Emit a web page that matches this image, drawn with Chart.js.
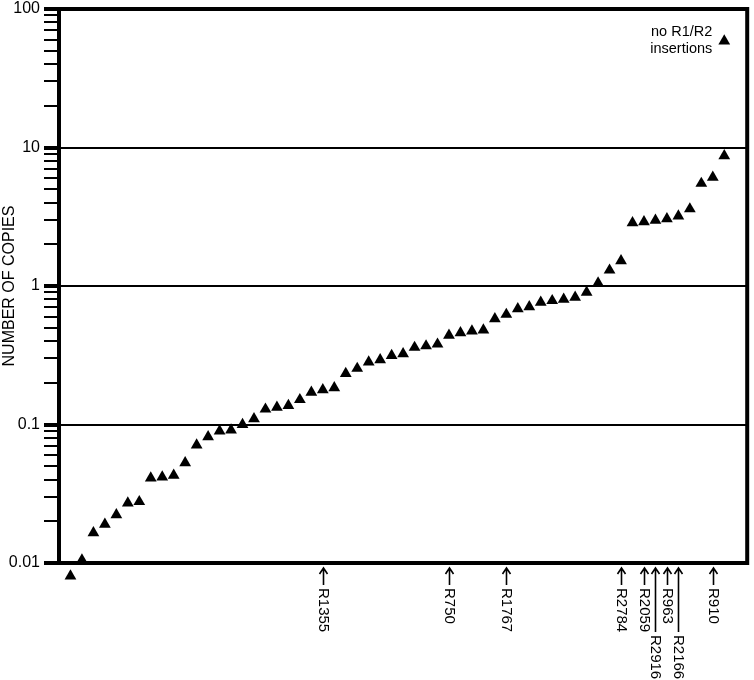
<!DOCTYPE html>
<html>
<head>
<meta charset="utf-8">
<script src="https://cdn.jsdelivr.net/npm/chart.js@4.4.1/dist/chart.umd.min.js"></script>
<style>
  html, body { margin: 0; padding: 0; background: #fff; }
</style>
</head>
<body>
<canvas id="copies-chart" width="754" height="680"></canvas>
<script>
// copy number per strain, sorted (log scale)
const copies = [
  0.00805, 0.0105, 0.0165, 0.019, 0.0223, 0.0271, 0.0277, 0.041, 0.0417, 0.043,
  0.0528, 0.071, 0.0815, 0.0895, 0.091, 0.100, 0.11, 0.129, 0.133, 0.137,
  0.151, 0.171, 0.178, 0.184, 0.233, 0.254, 0.282, 0.293, 0.315, 0.324,
  0.36, 0.369, 0.38, 0.441, 0.459, 0.472, 0.48, 0.58, 0.623, 0.684,
  0.708, 0.762, 0.783, 0.80, 0.829, 0.90, 1.05, 1.3, 1.52, 2.86,
  2.91, 2.98, 3.06, 3.2, 3.6, 5.5, 6.1, 8.7
];
const noInsertIndex = 57;
const noInsertCopies = 58.7;
const noInsertLabel = ["no R1/R2", "insertions"];

const arrowIndex = [22, 33, 38, 48, 50, 51, 52, 53, 56];
const arrowLabels = ["R1355", "R750", "R1767", "R2784", "R2059", "R2916", "R963", "R2166", "R910"];
const arrowLong = [false, false, false, false, false, true, false, true, false];

const decadeTicks = [0.01, 0.1, 1, 10, 100];
const decadeLabels = ["0.01", "0.1", "1", "10", "100"];

const FONT = "'Liberation Sans', Arial, sans-serif";

function isDecade(v) { return decadeTicks.indexOf(v) >= 0; }
function isInnerDecade(v) { return isDecade(v) && v !== 0.01 && v !== 100; }

const overlay = {
  id: "overlay",
  afterDatasetsDraw(chart) {
    // chart.js skips points lying outside the chart area, draw those here
    const { ctx, chartArea: a } = chart;
    ctx.save();
    ctx.fillStyle = "#000";
    chart.getSortedVisibleDatasetMetas().forEach(meta => {
      meta.data.forEach(el => {
        if (el.y > a.bottom + 4 || el.y < a.top - 4) {
          Chart.helpers.drawPoint(ctx, el.options, el.x, el.y);
        }
      });
    });
    ctx.restore();
  },
  afterDraw(chart) {
    const { ctx, chartArea: a, scales } = chart;
    ctx.save();
    ctx.strokeStyle = "#000";
    ctx.fillStyle = "#000";
    ctx.lineWidth = 4;
    ctx.strokeRect(a.left, a.top, a.right - a.left, a.bottom - a.top);

    // strain arrows under the axis
    ctx.lineWidth = 1.6;
    ctx.font = "15px " + FONT;
    ctx.textAlign = "left";
    ctx.textBaseline = "middle";
    arrowIndex.forEach((idx, k) => {
      const x = Math.round(scales.x.getPixelForValue(idx)) + 0.5;
      const y0 = a.bottom + 5;
      const y1 = arrowLong[k] ? a.bottom + 69 : a.bottom + 22;
      ctx.beginPath();
      ctx.moveTo(x, y0);
      ctx.lineTo(x, y1);
      ctx.moveTo(x - 4, y0 + 6);
      ctx.lineTo(x, y0);
      ctx.lineTo(x + 4, y0 + 6);
      ctx.stroke();
      ctx.save();
      ctx.translate(x, y1 + 3);
      ctx.rotate(Math.PI / 2);
      ctx.fillText(arrowLabels[k], 0, 0);
      ctx.restore();
    });

    // label next to the "no insertions" point
    const px = scales.x.getPixelForValue(noInsertIndex);
    const py = scales.y.getPixelForValue(noInsertCopies);
    ctx.font = "14.5px " + FONT;
    ctx.textAlign = "right";
    ctx.textBaseline = "alphabetic";
    ctx.fillText(noInsertLabel[0], px - 12, py - 5.5);
    ctx.fillText(noInsertLabel[1], px - 12, py + 11.5);
    ctx.restore();
  }
};

const pointStyle = {
  showLine: false,
  pointStyle: "triangle",
  pointRadius: 6.8,
  pointBackgroundColor: "#000",
  pointBorderWidth: 0,
  clip: false
};

new Chart(document.getElementById("copies-chart").getContext("2d"), {
  type: "scatter",
  data: {
    datasets: [
      Object.assign({ data: copies.map((v, i) => ({ x: i, y: v })) }, pointStyle),
      Object.assign({ data: [{ x: noInsertIndex, y: noInsertCopies }] }, pointStyle)
    ]
  },
  options: {
    responsive: false,
    animation: false,
    events: [],
    layout: { padding: { top: 9, right: 5, bottom: 117, left: 0 } },
    plugins: { legend: { display: false }, tooltip: { enabled: false } },
    scales: {
      x: { type: "linear", min: -1, max: 59, display: false },
      y: {
        type: "logarithmic",
        min: 0.01,
        max: 100,
        afterBuildTicks(scale) {
          const t = [];
          decadeTicks.forEach((d, i) => {
            t.push({ value: d });
            if (i < decadeTicks.length - 1) {
              for (let m = 2; m <= 9; m++) t.push({ value: +(d * m).toPrecision(3) });
            }
          });
          scale.ticks = t;
        },
        afterFit(scale) {
          scale.width = 59;
          scale.paddingTop = 0;
          scale.paddingBottom = 0;
        },
        border: { display: true, color: "#000", width: 4 },
        grid: {
          color: c => (c.tick && isInnerDecade(c.tick.value)) ? "#000" : "rgba(0,0,0,0)",
          lineWidth: c => (c.tick && isInnerDecade(c.tick.value)) ? 2 : 0,
          tickColor: "#000",
          tickWidth: c => (c.tick && isDecade(c.tick.value)) ? 4 : 2,
          tickLength: 15
        },
        ticks: {
          autoSkip: false,
          padding: 4,
          color: "#000",
          font: { family: FONT, size: 16 },
          callback: v => {
            const k = decadeTicks.indexOf(v);
            return k >= 0 ? decadeLabels[k] : "";
          }
        },
        title: {
          display: true,
          text: "NUMBER OF COPIES",
          color: "#000",
          font: { family: FONT, size: 16 },
          padding: 0
        }
      }
    }
  },
  plugins: [overlay]
});
</script>
</body>
</html>
